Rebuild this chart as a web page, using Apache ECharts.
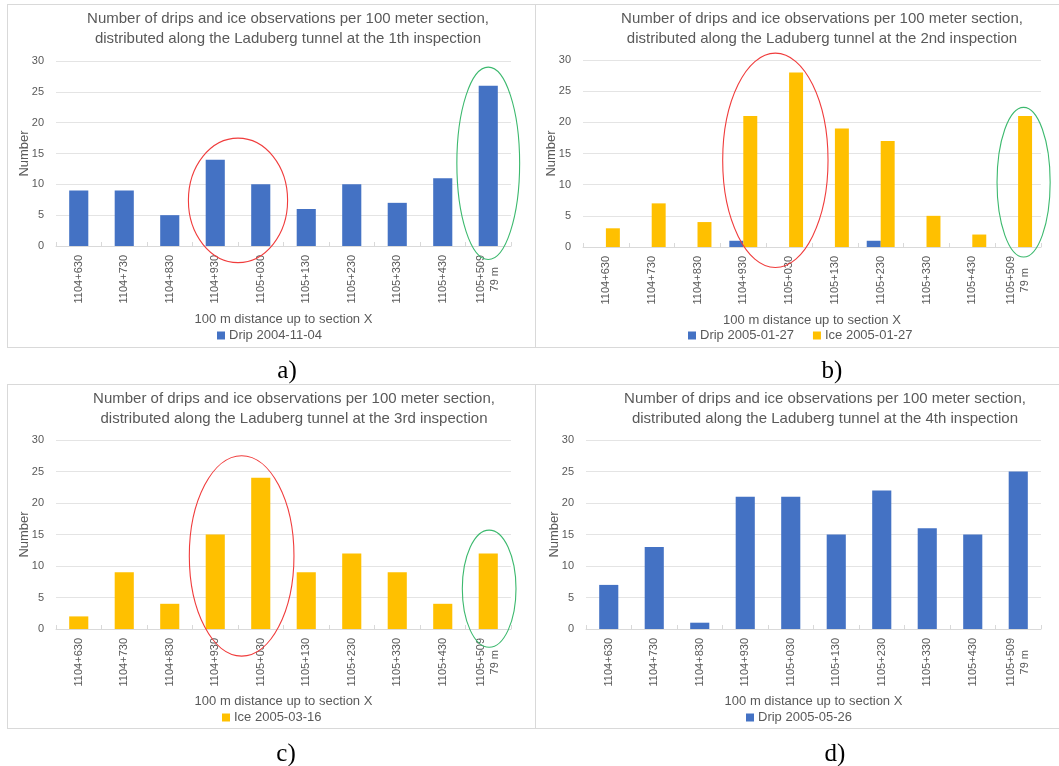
<!DOCTYPE html>
<html>
<head>
<meta charset="utf-8">
<script src="https://cdn.jsdelivr.net/npm/echarts@6/dist/echarts.min.js"></script>
<style>
html,body{margin:0;padding:0;background:#fff;}
#main{width:1059px;height:766px;}
</style>
</head>
<body>
<div id="main"></div>
<script>
// ---- data ----
const categories = ['1104+630','1104+730','1104+830','1104+930','1105+030','1105+130','1105+230','1105+330','1105+430','1105+509\n79 m'];
const dripA = [9, 9, 5, 14, 10, 6, 10, 7, 11, 26];
const dripB = [0, 0, 0, 1, 0, 0, 1, 0, 0, 0];
const iceB  = [3, 7, 4, 21, 28, 19, 17, 5, 2, 21];
const iceC  = [2, 9, 4, 15, 24, 9, 12, 9, 4, 12];
const dripD = [7, 13, 1, 21, 21, 15, 22, 16, 15, 25];
const yMin = 0, yMax = 30, yStep = 5;
const titleA = 'Number of drips and ice observations per 100 meter section,\ndistributed along the Laduberg tunnel at the 1th inspection';
const titleB = 'Number of drips and ice observations per 100 meter section,\ndistributed along the Laduberg tunnel at the 2nd inspection';
const titleC = 'Number of drips and ice observations per 100 meter section,\ndistributed along the Laduberg tunnel at the 3rd inspection';
const titleD = 'Number of drips and ice observations per 100 meter section,\ndistributed along the Laduberg tunnel at the 4th inspection';
const panelLabels = ['a)', 'b)', 'c)', 'd)'];
const xName = '100 m distance up to section X';
const yName = 'Number';
// annotation ellipses: [grid, colour, centre category index, centre value, half width (categories), half height (values)]
const ellipses = [
  [0, '#f03c3c', 3.5, 7.4, 1.09, 10.1],
  [0, '#3cb96e', 9.0, 13.4, 0.69, 15.6],
  [1, '#f03c3c', 3.7, 13.9, 1.15, 17.2],
  [1, '#3cb96e', 9.12, 10.4, 0.58, 12.0],
  [2, '#f03c3c', 3.58, 11.6, 1.15, 15.9],
  [2, '#3cb96e', 9.02, 6.4, 0.59, 9.3]
];

const BLUE = '#4472C4', GOLD = '#FFC000', TXT = '#595959', FONT = 'Liberation Sans, Arial, sans-serif';
const chart = echarts.init(document.getElementById('main'), null, {renderer: 'canvas'});

const grids = [
  {left: 56, top: 61, width: 455, height: 185},
  {left: 583, top: 60, width: 458, height: 187},
  {left: 56, top: 440, width: 455, height: 189},
  {left: 586, top: 440, width: 455, height: 189}
];
const nameGaps = [67, 66.5, 65.5, 65.5];

function xAxis(i) {
  return {
    type: 'category', gridIndex: i, data: categories,
    name: xName, nameLocation: 'middle', nameGap: nameGaps[i], nameMoveOverlap: false,
    nameTextStyle: {color: TXT, fontSize: 13, fontFamily: FONT},
    axisLine: {lineStyle: {color: '#d9d9d9'}},
    axisTick: {show: true, inside: true, length: 4, lineStyle: {color: '#d9d9d9'}},
    axisLabel: {
      rotate: 90, interval: 0, margin: 9, color: TXT, fontSize: 11, fontFamily: FONT,
      formatter: function (v) {
        const parts = v.split('\n');
        if (parts.length > 1) return '{a|' + parts[0] + '}\n{b|' + parts[1] + '}';
        return v;
      },
      rich: {
        a: {color: TXT, fontSize: 11, fontFamily: FONT, lineHeight: 14},
        b: {color: TXT, fontSize: 11, fontFamily: FONT, lineHeight: 14, align: 'center'}
      }
    }
  };
}
function yAxis(i) {
  return {
    type: 'value', gridIndex: i, min: yMin, max: yMax, interval: yStep,
    name: yName, nameLocation: 'middle', nameGap: 25, nameMoveOverlap: false,
    nameTextStyle: {color: TXT, fontSize: 13, fontFamily: FONT},
    axisLine: {show: false}, axisTick: {show: false},
    axisLabel: {color: TXT, fontSize: 11, fontFamily: FONT, margin: 12},
    splitLine: {lineStyle: {color: '#e4e4e4'}}
  };
}
function title(text, cx, top) {
  return {
    text: text, left: cx, top: top, textAlign: 'center',
    textStyle: {color: TXT, fontSize: 15, fontWeight: 'normal', fontFamily: FONT, lineHeight: 20}
  };
}
function legend(names, left, top) {
  return {
    data: names, left: left, top: top, orient: 'horizontal', icon: 'rect',
    itemWidth: 8, itemHeight: 8, itemGap: 19, padding: 0,
    textStyle: {color: TXT, fontSize: 13, fontFamily: FONT, padding: [0, 0, 0, -1]},
    selectedMode: false
  };
}

const option = {
  animation: false,
  backgroundColor: '#ffffff',
  title: [
    title(titleA, 283, 4), title(titleB, 817, 4), title(titleC, 289, 384), title(titleD, 820, 384),
    {text: panelLabels[0], left: 282, top: 354, textAlign: 'center', textStyle: {fontFamily: 'Liberation Serif, serif', fontSize: 25, fontWeight: 'normal', color: '#000'}},
    {text: panelLabels[1], left: 827, top: 354, textAlign: 'center', textStyle: {fontFamily: 'Liberation Serif, serif', fontSize: 25, fontWeight: 'normal', color: '#000'}},
    {text: panelLabels[2], left: 281, top: 737, textAlign: 'center', textStyle: {fontFamily: 'Liberation Serif, serif', fontSize: 25, fontWeight: 'normal', color: '#000'}},
    {text: panelLabels[3], left: 830, top: 737, textAlign: 'center', textStyle: {fontFamily: 'Liberation Serif, serif', fontSize: 25, fontWeight: 'normal', color: '#000'}}
  ],
  legend: [
    legend(['Drip 2004-11-04'], 217, 329),
    legend(['Drip 2005-01-27', 'Ice 2005-01-27'], 688, 329),
    legend(['Ice 2005-03-16'], 222, 711),
    legend(['Drip 2005-05-26'], 746, 711)
  ],
  grid: grids,
  xAxis: [xAxis(0), xAxis(1), xAxis(2), xAxis(3)],
  yAxis: [yAxis(0), yAxis(1), yAxis(2), yAxis(3)],
  series: [
    {name: 'Drip 2004-11-04', type: 'bar', xAxisIndex: 0, yAxisIndex: 0, data: dripA, barWidth: '42%', itemStyle: {color: BLUE}},
    {name: 'Drip 2005-01-27', type: 'bar', xAxisIndex: 1, yAxisIndex: 1, data: dripB, barGap: '0%', barCategoryGap: '39%', itemStyle: {color: BLUE}},
    {name: 'Ice 2005-01-27', type: 'bar', xAxisIndex: 1, yAxisIndex: 1, data: iceB, barGap: '0%', barCategoryGap: '39%', itemStyle: {color: GOLD}},
    {name: 'Ice 2005-03-16', type: 'bar', xAxisIndex: 2, yAxisIndex: 2, data: iceC, barWidth: '42%', itemStyle: {color: GOLD}},
    {name: 'Drip 2005-05-26', type: 'bar', xAxisIndex: 3, yAxisIndex: 3, data: dripD, barWidth: '42%', itemStyle: {color: BLUE}}
  ]
};
chart.setOption(option);

// frame lines (table layout) + annotation ellipses
const G = '#d9d9d9';
const graphics = [];
function hline(y, x1, x2) { graphics.push({type: 'line', shape: {x1: x1, y1: y, x2: x2, y2: y}, style: {stroke: G, lineWidth: 1}, silent: true}); }
function vline(x, y1, y2) { graphics.push({type: 'line', shape: {x1: x, y1: y1, x2: x, y2: y2}, style: {stroke: G, lineWidth: 1}, silent: true}); }
hline(4.5, 7, 1059); hline(347.5, 7, 1059); hline(384.5, 7, 1059); hline(728.5, 7, 1059);
vline(7.5, 4, 347); vline(535.5, 4, 347); vline(7.5, 384, 728); vline(535.5, 384, 728);

ellipses.forEach(function (e) {
  const gi = e[0];
  const p0 = chart.convertToPixel({xAxisIndex: gi, yAxisIndex: gi}, [0, 0]);
  const p1 = chart.convertToPixel({xAxisIndex: gi, yAxisIndex: gi}, [1, 10]);
  const dx = p1[0] - p0[0];          // px per category
  const dy = (p0[1] - p1[1]) / 10;   // px per value unit
  const cx = p0[0] + e[2] * dx;
  const cy = p0[1] - e[3] * dy;
  graphics.push({
    type: 'ellipse', z: 100, silent: true,
    shape: {cx: cx, cy: cy, rx: e[4] * dx, ry: e[5] * dy},
    style: {fill: 'none', stroke: e[1], lineWidth: 1.1}
  });
});
chart.setOption({graphic: graphics});
</script>
</body>
</html>
